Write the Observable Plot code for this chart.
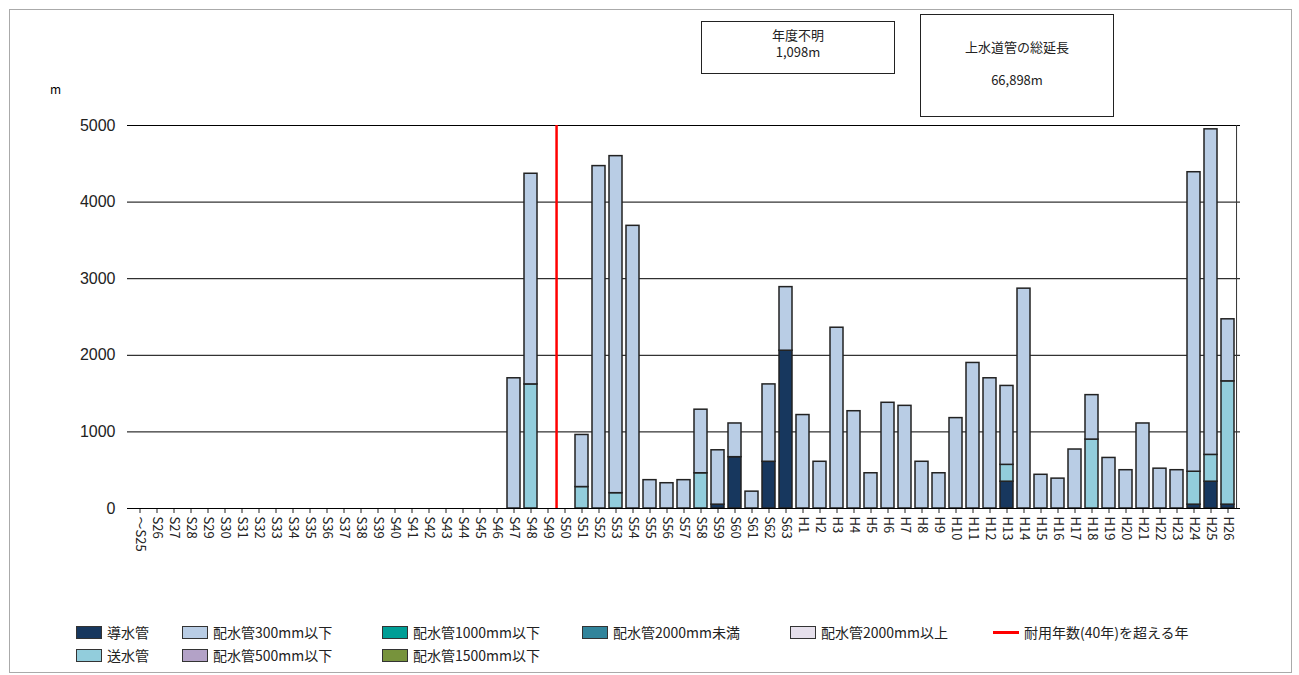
<!DOCTYPE html>
<html><head><meta charset="utf-8">
<script src="https://cdn.jsdelivr.net/npm/d3@7"></script>
<script src="https://cdn.jsdelivr.net/npm/@observablehq/plot@0.6"></script>
<style>
body{margin:0;background:#fff;font-family:"Noto Sans CJK JP",sans-serif;}
#frame{position:absolute;left:9px;top:9px;width:1281px;height:662px;border:1px solid #aaa;}
#chart{position:absolute;left:0;top:0;}
.box{position:absolute;border:1.5px solid #222;text-align:center;font-size:13px;color:#222;background:#fff;}
#legend{position:absolute;left:76px;top:622px;font-size:14px;color:#222;}
.li{position:absolute;white-space:nowrap;display:flex;align-items:center;}
.sw{display:inline-block;width:26px;height:13px;border:1px solid #333;margin-right:5px;box-sizing:border-box;}
</style></head><body>
<div id="frame"></div>
<div id="chart"></div>
<div class="box" style="left:701px;top:21px;width:194px;height:53px;line-height:17px;padding-top:4px;box-sizing:border-box;">年度不明<br>1,098m</div>
<div class="box" style="left:920px;top:14px;width:194px;height:103px;box-sizing:border-box;"><div style="margin-top:22px">上水道管の総延長</div><div style="margin-top:14px">66,898m</div></div>
<div style="position:absolute;left:50px;top:80px;font-size:12px;">m</div>
<div id="legend"></div>
<script>
const years = ["～S25","S26","S27","S28","S29","S30","S31","S32","S33","S34","S35","S36","S37","S38","S39","S40","S41","S42","S43","S44","S45","S46","S47","S48","S49","S50","S51","S52","S53","S54","S55","S56","S57","S58","S59","S60","S61","S62","S63","H1","H2","H3","H4","H5","H6","H7","H8","H9","H10","H11","H12","H13","H14","H15","H16","H17","H18","H19","H20","H21","H22","H23","H24","H25","H26"];
const totals = {"S47":1700,"S48":4370,"S51":960,"S52":4470,"S53":4600,"S54":3690,"S55":370,"S56":330,"S57":370,"S58":1290,"S59":760,"S60":1110,"S61":220,"S62":1620,"S63":2890,"H1":1220,"H2":610,"H3":2360,"H4":1270,"H5":460,"H6":1380,"H7":1340,"H8":610,"H9":460,"H10":1180,"H11":1900,"H12":1700,"H13":1600,"H14":2870,"H15":440,"H16":390,"H17":770,"H18":1480,"H19":660,"H20":500,"H21":1110,"H22":520,"H23":500,"H24":4390,"H25":4950,"H26":2470};
const dousui = {"S59":50,"S60":670,"S62":610,"S63":2060,"H13":350,"H24":50,"H25":350,"H26":50};
const sousui = {"S48":1620,"S51":280,"S53":200,"S58":460,"H13":220,"H18":900,"H24":430,"H25":350,"H26":1610};
const yTicks = [0,1000,2000,3000,4000,5000];
const series = ["導水管","送水管","配水管300mm以下"];
const colors = {"導水管":"#17375e","送水管":"#92cddc","配水管300mm以下":"#b9cde5"};
const legendItems = [
 ["導水管","#17375e",0,0],["配水管300mm以下","#b9cde5",1,0],["配水管1000mm以下","#009e96",2,0],["配水管2000mm未満","#31849b",3,0],["配水管2000mm以上","#e6e0ec",4,0],["耐用年数(40年)を超える年","red",5,0],
 ["送水管","#92cddc",0,1],["配水管500mm以下","#b3a2c7",1,1],["配水管1500mm以下","#77933c",2,1]];
const legendX = [0,106,306,506,714,917];

const data = [];
for (const y of years) {
  const t = totals[y]||0, d = dousui[y]||0, s = sousui[y]||0;
  if (d) data.push({year:y, kind:"導水管", v:d});
  if (s) data.push({year:y, kind:"送水管", v:s});
  if (t) data.push({year:y, kind:"配水管300mm以下", v:t-d-s});
}
const step = (1299-127-59)/years.length;
const plot = Plot.plot({
  width:1299, height:585,
  marginLeft:127, marginRight:59, marginTop:125, marginBottom:77,
  x:{domain:years, padding:0.22, label:null},
  y:{domain:[0,5000], label:null},
  marks:[
    Plot.gridY(yTicks,{stroke:"#000", strokeOpacity:1, strokeWidth:1}),
    Plot.ruleX(["H26"],{dx:step/2, y1:0, y2:5000, stroke:"#333"}),
    Plot.barY(data, Plot.stackY({x:"year", y:"v", fill:d=>colors[d.kind], order:series, z:"kind", stroke:"#222", strokeWidth:1.5})),
    Plot.ruleX(["S49"],{dx:step/2, y1:0, y2:5000, stroke:"red", strokeWidth:2.5}),
    Plot.axisX({tickRotate:90, textAnchor:"start", fontSize:13, tickSize:5, tickPadding:3, label:null, fontFamily:"Noto Sans CJK JP", color:"#222"}),
    Plot.axisY({ticks:yTicks, tickSize:0, fontSize:16, fontFamily:"Liberation Sans", tickPadding:12, tickFormat:d=>String(d), label:null, color:"#222"}),
    Plot.ruleY([0],{stroke:"#000"})
  ]
});
document.getElementById("chart").append(plot);
const lg = document.getElementById("legend");
for (const [name,c,i,row] of legendItems) {
  const el = document.createElement("div"); el.className="li";
  el.style.left = legendX[i]+"px"; el.style.top = (row*23)+"px";
  const sw = document.createElement("span");
  if (c==="red") { sw.style.cssText="display:inline-block;width:26px;height:3px;background:red;margin-right:5px;"; }
  else { sw.className="sw"; sw.style.background=c; }
  el.append(sw, document.createTextNode(name));
  lg.append(el);
}
</script></body></html>
